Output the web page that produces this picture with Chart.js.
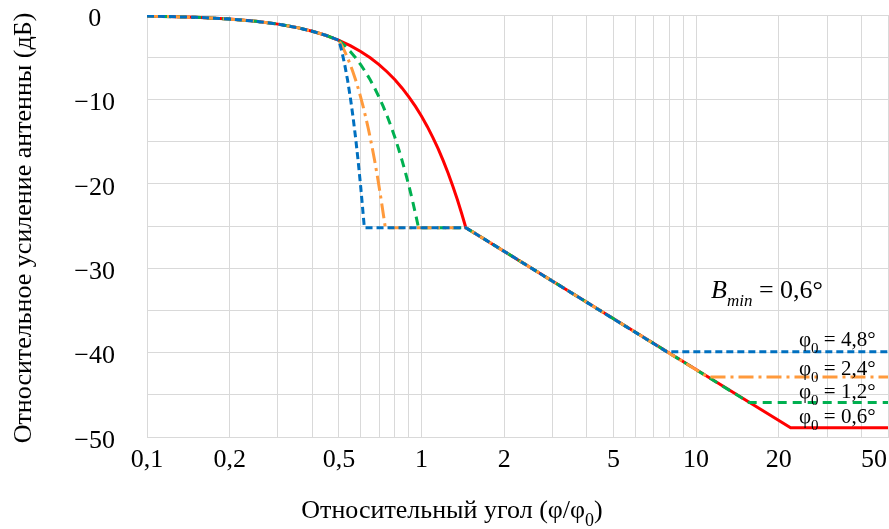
<!DOCTYPE html>
<html>
<head>
<meta charset="utf-8">
<script src="https://cdn.jsdelivr.net/npm/chart.js@4"></script>
<style>
body{margin:0;background:#fff;}
canvas{display:block;}
</style>
</head>
<body>
<canvas id="chart" width="889" height="529"></canvas>
<script>
// main lobe, the same for every beam (phi/phi0 , dB)
const mainLobeAngle = [0.1, 0.15, 0.2, 0.25, 0.3, 0.35, 0.4, 0.45, 0.5];
const mainLobeGain  = [-0.12, -0.27, -0.48, -0.75, -1.08, -1.47, -1.92, -2.43, -3.0];

// phi0 = 4,8
const phi48Angle = [0.5125, 0.525, 0.5375, 0.55, 0.5625, 0.575, 0.5875, 0.6, 0.6125, 0.619, 1.45, 7.82, 50];
const phi48Gain  = [-4.32, -5.88, -7.68, -9.72, -12.0, -14.52, -17.28, -20.28, -23.52, -25.2, -25.2, -39.9, -39.9];
// phi0 = 2,4
const phi24Angle = [0.5125, 0.525, 0.5375, 0.55, 0.5625, 0.575, 0.5875, 0.6, 0.6125, 0.625, 0.6375, 0.65, 0.6625, 0.675, 0.6875, 0.7, 0.7125, 0.725, 0.738, 1.45, 11.05, 50];
const phi24Gain  = [-3.63, -4.32, -5.07, -5.88, -6.75, -7.68, -8.67, -9.72, -10.83, -12.0, -13.23, -14.52, -15.87, -17.28, -18.75, -20.28, -21.87, -23.52, -25.2, -25.2, -42.9, -42.9];
// phi0 = 1,2
const phi12Angle = [0.525, 0.55, 0.575, 0.6, 0.625, 0.65, 0.675, 0.7, 0.725, 0.75, 0.775, 0.8, 0.825, 0.85, 0.875, 0.9, 0.925, 0.95, 0.975, 1.45, 15.6, 50];
const phi12Gain  = [-3.63, -4.32, -5.07, -5.88, -6.75, -7.68, -8.67, -9.72, -10.83, -12.0, -13.23, -14.52, -15.87, -17.28, -18.75, -20.28, -21.87, -23.52, -25.2, -25.2, -45.9, -45.9];
// phi0 = 0,6
const phi06Angle = [0.55, 0.6, 0.65, 0.7, 0.75, 0.8, 0.85, 0.9, 0.95, 1.0, 1.05, 1.1, 1.15, 1.2, 1.25, 1.3, 1.35, 1.4, 1.45, 22.1, 50];
const phi06Gain  = [-3.63, -4.32, -5.07, -5.88, -6.75, -7.68, -8.67, -9.72, -10.83, -12.0, -13.23, -14.52, -15.87, -17.28, -18.75, -20.28, -21.87, -23.52, -25.2, -48.9, -48.9];

const seriesNames = ['4,8', '2,4', '1,2', '0,6'];

const xGridValues = [0.1,0.2,0.3,0.4,0.5,0.6,0.7,0.8,0.9,1,2,3,4,5,6,7,8,9,10,20,30,40,50];
const xTickValues = [0.1, 0.2, 0.5, 1, 2, 5, 10, 20, 50];
const xTickLabels = ['0,1', '0,2', '0,5', '1', '2', '5', '10', '20', '50'];

const SERIF = '"Liberation Serif", "Times New Roman", serif';

const toPoints = (xs, ys) => mainLobeAngle.concat(xs).map((x, i) => ({x: x, y: mainLobeGain.concat(ys)[i]}));

function runsWidth(ctx, runs){
    let w = 0;
    runs.forEach(r => {
        ctx.font = (r.italic ? 'italic ' : '') + r.size + 'px ' + SERIF;
        w += ctx.measureText(r.text).width;
    });
    return w;
}
function drawRuns(ctx, x, y, runs){
    runs.forEach(r => {
        ctx.font = (r.italic ? 'italic ' : '') + r.size + 'px ' + SERIF;
        ctx.fillText(r.text, x, y + (r.dy || 0));
        x += ctx.measureText(r.text).width;
    });
}

const textPlugin = {
    id: 'texts',
    afterDraw(chart){
        const ctx = chart.ctx;
        const xs = chart.scales.x;
        ctx.save();
        ctx.fillStyle = '#000';
        ctx.textBaseline = 'alphabetic';

        // x tick labels
        ctx.font = '26px ' + SERIF;
        ctx.textAlign = 'center';
        xTickValues.forEach((v, i) => {
            let px = xs.getPixelForValue(v);
            const w = ctx.measureText(xTickLabels[i]).width;
            if (px + w / 2 > chart.width - 2) px = chart.width - 2 - w / 2;
            ctx.fillText(xTickLabels[i], px, 467);
        });
        ctx.textAlign = 'left';

        // x title
        const xt = [
            {text: 'Относительный угол (φ/φ', size: 26},
            {text: '0', size: 18, dy: 8},
            {text: ')', size: 26}
        ];
        drawRuns(ctx, 452 - runsWidth(ctx, xt) / 2, 518, xt);

        // y title
        ctx.save();
        ctx.translate(31, 228);
        ctx.rotate(-Math.PI / 2);
        ctx.font = '26px ' + SERIF;
        ctx.textAlign = 'center';
        ctx.fillText('Относительное усиление антенны (дБ)', 0, 0);
        ctx.restore();

        // B_min note
        drawRuns(ctx, 711, 298, [
            {text: 'B', size: 26, italic: true},
            {text: 'min', size: 17, italic: true, dy: 8},
            {text: ' = 0,6°', size: 26}
        ]);

        // phi0 labels
        const base = [346, 375, 398, 423];
        seriesNames.forEach((n, i) => {
            drawRuns(ctx, 799, base[i], [
                {text: 'φ', size: 21},
                {text: '0', size: 15, dy: 7},
                {text: ' = ' + n + '°', size: 21}
            ]);
        });
        ctx.restore();
    }
};

const ds = (pts, color, dash) => ({
    data: pts,
    showLine: true,
    borderColor: color,
    borderWidth: 3,
    borderDash: dash,
    pointRadius: 0,
    tension: 0,
    fill: false
});

new Chart(document.getElementById('chart'), {
    type: 'scatter',
    data: {
        datasets: [
            ds(toPoints(phi48Angle, phi48Gain), '#0070C0', [7, 4]),
            ds(toPoints(phi24Angle, phi24Gain), '#FF9A3C', [15, 5, 3, 5]),
            ds(toPoints(phi12Angle, phi12Gain), '#00B050', [9, 6]),
            ds(toPoints(phi06Angle, phi06Gain), '#FF0000', [])
        ]
    },
    options: {
        responsive: false,
        animation: false,
        layout: {padding: {top: 15, right: 1, left: 0, bottom: 0}},
        plugins: {legend: {display: false}, tooltip: {enabled: false}},
        scales: {
            x: {
                type: 'logarithmic',
                min: 0.1,
                max: 50,
                afterBuildTicks: s => { s.ticks = xGridValues.map(v => ({value: v})); },
                afterFit: s => { s.height = 92; s.paddingLeft = 0; s.paddingRight = 0; },
                ticks: {display: false},
                grid: {color: '#D9D9D9', lineWidth: 1, drawTicks: false},
                border: {color: '#D9D9D9'}
            },
            y: {
                min: -50,
                max: 0,
                afterFit: s => { s.width = 147; s.paddingTop = 0; s.paddingBottom = 0; },
                ticks: {
                    stepSize: 5,
                    crossAlign: 'center',
                    padding: 32,
                    labelOffset: 4,
                    color: '#000',
                    font: {family: SERIF, size: 26},
                    callback: v => (v % 10 === 0 ? (v < 0 ? '\u2212' + Math.abs(v) : String(v)) : '')
                },
                grid: {color: '#D9D9D9', lineWidth: 1, drawTicks: false},
                border: {color: '#D9D9D9'}
            }
        }
    },
    plugins: [textPlugin]
});
</script>
</body>
</html>
